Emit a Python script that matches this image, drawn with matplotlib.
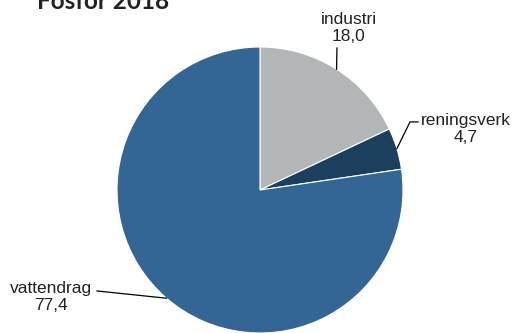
import numpy as np
import matplotlib
matplotlib.use("Agg")
import matplotlib.pyplot as plt

# Fosfor 2018, andel per källa (%)
kallor = ["industri", "reningsverk", "vattendrag"]
andelar = [18.0, 4.7, 77.4]
farger = ["#B3B6B7", "#1C3F5E", "#336695"]

fig = plt.figure(figsize=(5.2, 3.33), dpi=100)
ax = fig.add_axes([117 / 520, 0, 286 / 520, 286 / 333])

wedges, _ = ax.pie(andelar, colors=farger, startangle=90, counterclock=False,
                   radius=1.0, wedgeprops=dict(edgecolor="white", linewidth=0.8))
ax.set_xlim(-1, 1)
ax.set_ylim(-1, 1)
ax.set_aspect("equal")
ax.axis("off")

# etiketter och ledlinjer
label_pos = {"industri": (0.622, 1.133), "reningsverk": (1.44, 0.427),
             "vattendrag": (-1.46, -0.748)}
elbows = {"industri": [(0.538, 0.993)],
          "reningsverk": [(1.049, 0.476), (1.105, 0.476)],
          "vattendrag": [(-1.14, -0.706)]}

for w, namn, v in zip(wedges, kallor, andelar):
    mid = np.deg2rad((w.theta1 + w.theta2) / 2)
    x0, y0 = np.cos(mid), np.sin(mid)
    pts = [(x0, y0)] + elbows[namn]
    xs, ys = zip(*pts)
    ax.plot(xs, ys, color="black", lw=0.9, clip_on=False)
    tx, ty = label_pos[namn]
    ax.text(tx, ty, f"{namn}\n{v:.1f}".replace(".", ","), ha="center", va="center",
            fontsize=12.5, family="Liberation Sans", color="#222222",
            linespacing=1.1)

fig.text(37 / 520, 1 - 9 / 333, "Fosfor 2018", ha="left", va="baseline",
         fontsize=17.5, fontweight="bold", family="Lato", color="#222222")

fig.savefig("out.png", dpi=100)
